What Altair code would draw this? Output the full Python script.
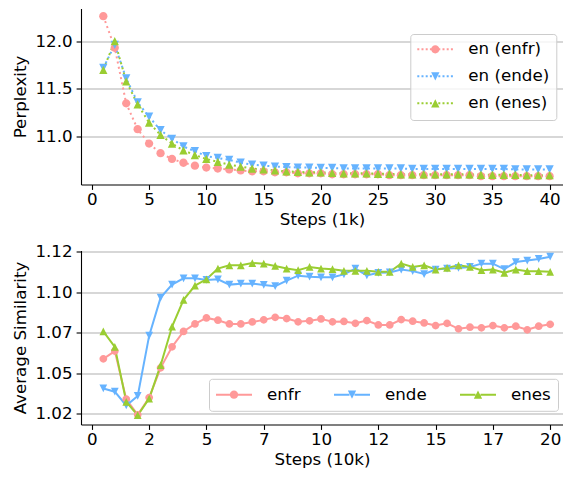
import altair as alt
import pandas as pd

# ---------------- data ----------------
series_top = ["en (enfr)", "en (ende)", "en (enes)"]
series_bottom = ["enfr", "ende", "enes"]
colors = ["#ff9999", "#66b3ff", "#9acd32"]

steps_1k = [1, 2, 3, 4, 5, 6, 7, 8, 9, 10, 11, 12, 13, 14, 15, 16, 17, 18, 19, 20,
            21, 22, 23, 24, 25, 26, 27, 28, 29, 30, 31, 32, 33, 34, 35, 36, 37, 38, 39, 40]
ppl_enfr = [12.26, 11.93, 11.35, 11.08, 10.93, 10.83, 10.77, 10.73, 10.70, 10.68,
            10.67, 10.66, 10.65, 10.64, 10.64, 10.63, 10.63, 10.62, 10.62, 10.62,
            10.61, 10.61, 10.61, 10.61, 10.61, 10.60, 10.60, 10.60, 10.60, 10.60,
            10.60, 10.60, 10.60, 10.59, 10.59, 10.59, 10.59, 10.59, 10.59, 10.59]
ppl_ende = [11.72, 11.96, 11.61, 11.36, 11.21, 11.07, 10.98, 10.90, 10.85, 10.80,
            10.78, 10.76, 10.73, 10.71, 10.70, 10.69, 10.685, 10.68, 10.68, 10.675,
            10.675, 10.67, 10.67, 10.67, 10.67, 10.67, 10.67, 10.665, 10.665, 10.665,
            10.665, 10.665, 10.665, 10.665, 10.665, 10.665, 10.66, 10.66, 10.66, 10.66]
ppl_enes = [11.70, 12.00, 11.58, 11.34, 11.15, 11.02, 10.93, 10.86, 10.81, 10.77,
            10.74, 10.71, 10.69, 10.67, 10.66, 10.65, 10.64, 10.635, 10.63, 10.63,
            10.625, 10.62, 10.62, 10.62, 10.615, 10.615, 10.61, 10.61, 10.61, 10.61,
            10.61, 10.61, 10.61, 10.605, 10.605, 10.605, 10.605, 10.60, 10.60, 10.60]

steps_10k = [0.5, 1.0, 1.5, 2.0, 2.5, 3.0, 3.5, 4.0, 4.5, 5.0, 5.5, 6.0, 6.5, 7.0,
             7.5, 8.0, 8.5, 9.0, 9.5, 10.0, 10.5, 11.0, 11.5, 12.0, 12.5, 13.0, 13.5,
             14.0, 14.5, 15.0, 15.5, 16.0, 16.5, 17.0, 17.5, 18.0, 18.5, 19.0, 19.5, 20.0]
sim_enfr = [1.0589, 1.0637, 1.0341, 1.0245, 1.0351, 1.0534, 1.0663, 1.0758, 1.0804, 1.0841,
            1.0827, 1.0804, 1.0804, 1.0816, 1.0829, 1.0845, 1.0837, 1.0817, 1.0823, 1.0835,
            1.0817, 1.0819, 1.0808, 1.0825, 1.0798, 1.0798, 1.0831, 1.0821, 1.0810, 1.0794,
            1.0808, 1.0774, 1.0784, 1.0780, 1.0794, 1.0780, 1.0790, 1.0768, 1.0790, 1.0802]
sim_ende = [1.0407, 1.0387, 1.0302, 1.0361, 1.0732, 1.0966, 1.1046, 1.1085, 1.1085, 1.1075,
            1.1079, 1.1046, 1.1052, 1.1052, 1.1044, 1.1036, 1.1071, 1.1101, 1.1095, 1.1091,
            1.1091, 1.1109, 1.1145, 1.1103, 1.1119, 1.1121, 1.1139, 1.1129, 1.1111, 1.1139,
            1.1145, 1.1149, 1.1155, 1.1175, 1.1175, 1.1141, 1.1185, 1.1194, 1.1204, 1.1218]
sim_enes = [1.0758, 1.0663, 1.0325, 1.0242, 1.0345, 1.0550, 1.0788, 1.0952, 1.1040, 1.1079,
            1.1145, 1.1165, 1.1165, 1.1179, 1.1175, 1.1161, 1.1145, 1.1135, 1.1155, 1.1145,
            1.1141, 1.1131, 1.1131, 1.1131, 1.1125, 1.1125, 1.1175, 1.1155, 1.1165, 1.1139,
            1.1149, 1.1165, 1.1155, 1.1135, 1.1139, 1.1119, 1.1139, 1.1129, 1.1129, 1.1125]

top_x_ticks = [0, 5, 10, 15, 20, 25, 30, 35, 40]
top_y_ticks = [11.0, 11.5, 12.0]
bot_x_ticks = [0, 2.5, 5, 7.5, 10, 12.5, 15, 17.5, 20]
bot_x_labels = ["0", "2", "5", "7", "10", "12", "15", "17", "20"]
bot_y_ticks = [1.025, 1.05, 1.075, 1.1, 1.125]
bot_y_labels = ["1.02", "1.05", "1.07", "1.10", "1.12"]

# ---------------- marker shapes ----------------
M_CIRCLE = "M1,0A1,1 0 1,1 -1,0A1,1 0 1,1 1,0Z"
M_DOWN = "M0,1L-1,-1L1,-1Z"
M_UP = "M0,-1L1,1L-1,1Z"
markers = [M_CIRCLE, M_DOWN, M_UP]

LEG_SIZE = 100          # legend symbol size -> 5 px per path unit
K = 5.0


def rect(x0, x1, th):
    return f"M{x0:.3f},{-th:.3f}L{x1:.3f},{-th:.3f}L{x1:.3f},{th:.3f}L{x0:.3f},{th:.3f}Z"


def legend_path(kind, dotted):
    u = 1.0 / K
    half = 18 * u
    th = 1.0 * u
    r = 4.17 * u
    parts = []
    if dotted:
        x = -half
        while x < half - 1.5 * u:
            parts.append(rect(x, x + 2 * u, th))
            x += 4.2 * u
    else:
        parts.append(rect(-half, -0.5, th))
        parts.append(rect(0.5, half, th))
    if kind == 0:
        parts.append(f"M{r:.3f},0A{r:.3f},{r:.3f} 0 1,1 {-r:.3f},0A{r:.3f},{r:.3f} 0 1,1 {r:.3f},0Z")
    elif kind == 1:
        parts.append(f"M0,{r:.3f}L{-r:.3f},{-r:.3f}L{r:.3f},{-r:.3f}Z")
    else:
        parts.append(f"M0,{-r:.3f}L{r:.3f},{r:.3f}L{-r:.3f},{r:.3f}Z")
    return "".join(parts)


def frame(xs, ys_list, labels):
    rows = []
    for lab, mk, col, ys in zip(labels, markers, colors, ys_list):
        for x, y in zip(xs, ys):
            rows.append({"x": x, "y": y, "label": lab, "marker": mk, "col": col})
    return pd.DataFrame(rows)


def label_expr(vals, labs):
    e = "''"
    for v, l in reversed(list(zip(vals, labs))):
        e = f"abs(datum.value - {v}) < 1e-9 ? '{l}' : ({e})"
    return e


FONT = "DejaVu Sans"
FS = 16.7
W = 482


def panel(df, labels, dotted, xdom, ydom, xaxis, yaxis, legend, msize, h):
    x = alt.X("x:Q", scale=alt.Scale(domain=xdom, nice=False, zero=False), axis=xaxis)
    y = alt.Y("y:Q", scale=alt.Scale(domain=ydom, nice=False, zero=False), axis=yaxis)
    line_kw = dict(strokeWidth=2)
    if dotted:
        line_kw["strokeDash"] = [2, 3.3]
    lines = alt.Chart(df).mark_line(**line_kw).encode(
        x=x, y=y, detail="label:N",
        stroke=alt.Stroke("col:N", scale=None))
    pts = alt.Chart(df).mark_point(filled=True, opacity=1, size=msize, strokeWidth=0).encode(
        x=x, y=y,
        fill=alt.Fill("col:N", scale=None),
        shape=alt.Shape("marker:N", scale=None))
    lpaths = [legend_path(i, dotted) for i in range(3)]
    leg = alt.Chart(df).transform_filter("false").mark_point(
        filled=True, opacity=1, size=LEG_SIZE, strokeWidth=0).encode(
        color=alt.Color("label:N", scale=alt.Scale(domain=labels, range=colors), legend=legend),
        shape=alt.Shape("label:N", scale=alt.Scale(domain=labels, range=lpaths), legend=legend))
    return alt.layer(lines, pts, leg).properties(width=W, height=h)


common_leg = dict(
    title=None, orient="none", symbolSize=LEG_SIZE, symbolStrokeWidth=0,
    symbolOffset=9.65, labelOffset=24.65, labelFont=FONT, labelFontSize=FS,
    labelColor="black", padding=7, fillColor="rgba(255,255,255,0.8)",
    strokeColor="#cccccc", cornerRadius=3, symbolOpacity=1, labelLimit=0,
)

top_df = frame(steps_1k, [ppl_enfr, ppl_ende, ppl_enes], series_top)
bot_df = frame(steps_10k, [sim_enfr, sim_ende, sim_enes], series_bottom)

top = panel(
    top_df, series_top, True, [-0.95, 41.17], [10.503, 12.34],
    alt.Axis(values=top_x_ticks, title="Steps (1k)", grid=False, labelFlush=False),
    alt.Axis(values=top_y_ticks, format=".1f", title="Perplexity", grid=True),
    alt.Legend(legendX=329.3, legendY=25.5, direction="vertical", rowPadding=9, **common_leg),
    69, 176,
)
bottom = panel(
    bot_df, series_bottom, False, [-0.475, 20.56], [1.0185, 1.1256],
    alt.Axis(values=bot_x_ticks, labelExpr=label_expr(bot_x_ticks, bot_x_labels),
             title="Steps (10k)", grid=False, labelFlush=False),
    alt.Axis(values=bot_y_ticks, labelExpr=label_expr(bot_y_ticks, bot_y_labels),
             title="Average Similarity", grid=True),
    alt.Legend(legendX=128, legendY=128.3, direction="horizontal", columns=3,
               columnPadding=33, gridAlign="each", **common_leg),
    60, 174,
)

chart = alt.vconcat(top, bottom, spacing=14).resolve_scale(
    color="independent", shape="independent"
).resolve_legend(color="independent", shape="independent").properties(
    padding={"left": 4, "top": 0.5, "right": 0, "bottom": 0}
).configure_view(stroke=None).configure_axis(
    labelFont=FONT, labelFontSize=FS, labelColor="black",
    titleFont=FONT, titleFontSize=FS, titleFontWeight="normal", titleColor="black",
    domainColor="black", domainWidth=1.1, tickColor="black", tickWidth=1.1,
    tickSize=4.9, titlePadding=5.5,
    gridColor="#b0b0b0", gridWidth=1.1, labelOverlap=False,
).configure_axisX(labelPadding=2.4, titlePadding=2.5).configure_axisY(labelPadding=4)

chart.save("out.html", embed_options={"renderer": "svg", "actions": False})
